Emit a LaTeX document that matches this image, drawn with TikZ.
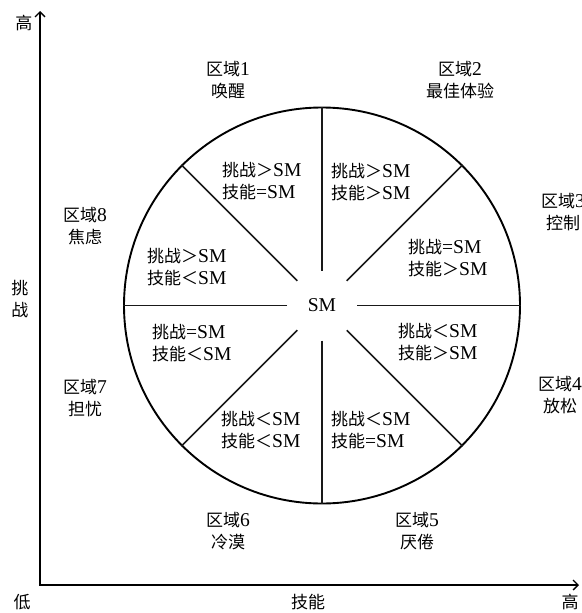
\documentclass[tikz,border=0pt]{standalone}
\usepackage{fontspec}
\setmainfont{Liberation Serif}[Scale=1.15]
\newfontfamily\cjk{Noto Sans CJK SC}
\usetikzlibrary{arrows.meta}
\newcommand\zh[1]{{\cjk #1}}
\tikzset{
  txt/.style={font=\fontsize{17}{22}\selectfont, inner sep=0pt},
  zone/.style={txt, align=center},
  cond/.style={txt, align=left, anchor=west},
  spoke/.style={line width=1.6pt, black!90},
  axisline/.style={line width=1.6pt, {Straight Barb[length=5pt,width=10pt,line width=1.3pt]}-{Straight Barb[length=5pt,width=10pt,line width=1.3pt]}}
}
\begin{document}
\begin{tikzpicture}[x=1pt,y=-1pt]
\useasboundingbox (0,0) rectangle (581,613);
% axes
\coordinate (ytop) at (40,11);
\coordinate (o) at (40,585);
\coordinate (xend) at (579,585);
\draw[axisline] (ytop) -- (o) -- (xend);
\node[txt] (yhigh) at (24,23) {\zh{高}};
\node[txt, align=center] (ylab) at (20,299) {\zh{挑}\\\zh{战}};
\node[txt] (low) at (22,602) {\zh{低}};
\node[txt] (xlab) at (308,602) {\zh{技能}};
\node[txt] (xhigh) at (570,602) {\zh{高}};
% circle
\coordinate (c) at (322,305.5);
\node[circle, draw, line width=1.9pt, minimum size=396pt, inner sep=0pt] (big) at (c) {};
\node[txt] (sm) at (c) {SM};
\foreach \a in {0,45,...,315}
  \draw[spoke] ([shift={(\a:35pt)}]c) -- (big.\a);
% zones
\node[zone] (z1) at (228,80) {\zh{区域}1\\\zh{唤醒}};
\node[zone] (z2) at (460,80) {\zh{区域}2\\\zh{最佳体验}};
\node[zone] (z3) at (563,212) {\zh{区域}3\\\zh{控制}};
\node[zone] (z4) at (560,395) {\zh{区域}4\\\zh{放松}};
\node[zone] (z5) at (417,531) {\zh{区域}5\\\zh{厌倦}};
\node[zone] (z6) at (228,531) {\zh{区域}6\\\zh{冷漠}};
\node[zone] (z7) at (85,398) {\zh{区域}7\\\zh{担忧}};
\node[zone] (z8) at (85,226) {\zh{区域}8\\\zh{焦虑}};
% conditions
\node[cond] (s1) at (222,181) {\zh{挑战＞}SM\\\zh{技能}=SM};
\node[cond] (s2) at (331,182) {\zh{挑战＞}SM\\\zh{技能＞}SM};
\node[cond] (s3) at (408,258) {\zh{挑战}=SM\\\zh{技能＞}SM};
\node[cond] (s4) at (398,342) {\zh{挑战＜}SM\\\zh{技能＞}SM};
\node[cond] (s5) at (331,430) {\zh{挑战＜}SM\\\zh{技能}=SM};
\node[cond] (s6) at (221,430) {\zh{挑战＜}SM\\\zh{技能＜}SM};
\node[cond] (s7) at (152,343) {\zh{挑战}=SM\\\zh{技能＜}SM};
\node[cond] (s8) at (147,267) {\zh{挑战＞}SM\\\zh{技能＜}SM};
\end{tikzpicture}
\end{document}
